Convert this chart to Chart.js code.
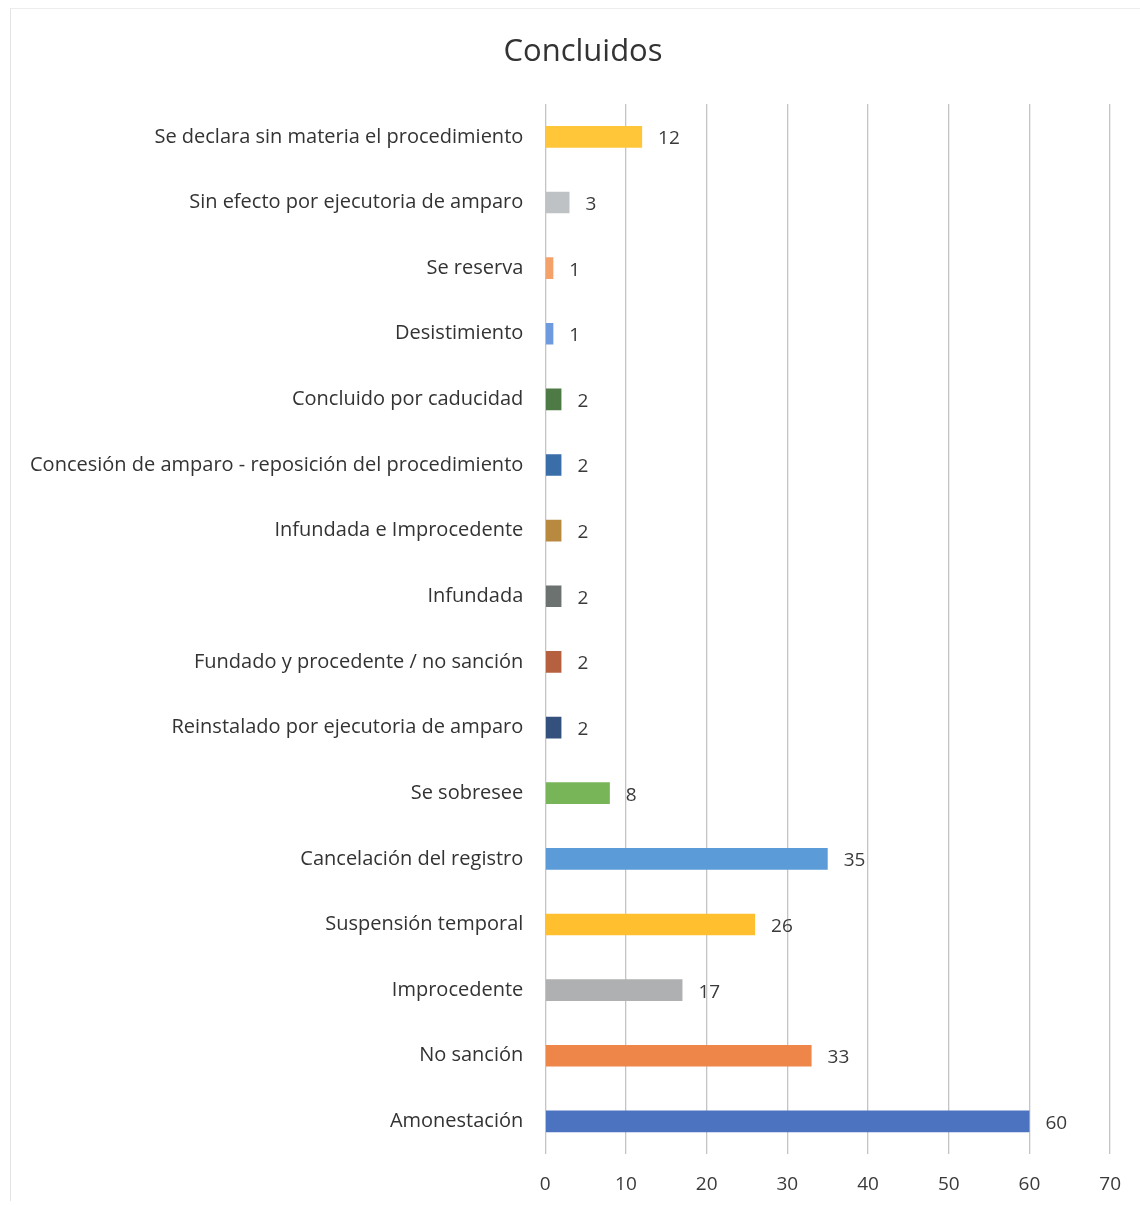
<!DOCTYPE html>
<html>
<head>
<meta charset="utf-8">
<script src="https://cdn.jsdelivr.net/npm/chart.js@4"></script>
<style>
  html, body { margin: 0; padding: 0; background: #fff; }
  #wrap { width: 1140px; height: 1205px; position: relative; }
  #marco {
      position: absolute; left: 10px; top: 8px; right: 0; bottom: 4px;
      border-left: 1px solid #e4e4e4; border-top: 1px solid #ececec;
      pointer-events: none;
  }
</style>
</head>
<body>
<div id="wrap">
  <canvas id="chart" width="1140" height="1205"></canvas>
  <div id="marco"></div>
</div>
<script>
// categorias de arriba hacia abajo
const categorias = [
    "Se declara sin materia el procedimiento",
    "Sin efecto por ejecutoria de amparo",
    "Se reserva",
    "Desistimiento",
    "Concluido por caducidad",
    "Concesión de amparo - reposición del procedimiento",
    "Infundada e Improcedente",
    "Infundada",
    "Fundado y procedente / no sanción",
    "Reinstalado por ejecutoria de amparo",
    "Se sobresee",
    "Cancelación del registro",
    "Suspensión temporal",
    "Improcedente",
    "No sanción",
    "Amonestación"
];

const valores = [12, 3, 1, 1, 2, 2, 2, 2, 2, 2, 8, 35, 26, 17, 33, 60];

const colores = [
    "#FFC63A", "#BFC2C4", "#F4A26A", "#6E9BDD",
    "#4E7A45", "#3A6EA8", "#B78A40", "#6B7270",
    "#B5603E", "#34517E", "#78B558", "#5B9BD8",
    "#FFBF2E", "#AEB0B1", "#EE8549", "#4B73C0"
];

const ticksX = [0, 10, 20, 30, 40, 50, 60, 70];

const titulo = "Concluidos";

const fuente = "'Open Sans', 'DejaVu Sans', sans-serif";

// titulo (en el original no queda centrado en el lienzo)
const tituloPlugin = {
    id: "tituloPlugin",
    afterDraw(chart) {
        const ctx = chart.ctx;
        ctx.save();
        ctx.font = "31px " + fuente;
        ctx.fillStyle = "#333333";
        ctx.textAlign = "center";
        ctx.textBaseline = "middle";
        ctx.fillText(titulo, 583, 52);
        ctx.restore();
    }
};

// etiquetas de valor al final de cada barra
const etiquetasValor = {
    id: "etiquetasValor",
    afterDatasetsDraw(chart) {
        const ctx = chart.ctx;
        const meta = chart.getDatasetMeta(0);
        ctx.save();
        ctx.font = "19px " + fuente;
        ctx.fillStyle = "#3a3a3a";
        ctx.textBaseline = "middle";
        ctx.textAlign = "left";
        meta.data.forEach((bar, i) => {
            ctx.fillText(valores[i], bar.x + 16, bar.y + 2);
        });
        ctx.restore();
    }
};

new Chart(document.getElementById("chart"), {
    type: "bar",
    data: {
        labels: categorias,
        datasets: [{
            data: valores,
            backgroundColor: colores,
            barPercentage: 0.33,
            categoryPercentage: 1
        }]
    },
    options: {
        indexAxis: "y",
        responsive: false,
        animation: false,
        layout: {
            padding: { left: 16, right: 29, top: 104, bottom: -10 }
        },
        plugins: {
            legend: { display: false },
            tooltip: { enabled: false },
            title: { display: false }
        },
        scales: {
            x: {
                min: 0,
                max: 70,
                afterBuildTicks(axis) {
                    axis.ticks = ticksX.map(v => ({ value: v }));
                },
                grid: {
                    color: "#c4c4c4",
                    lineWidth: 1.3,
                    drawTicks: false
                },
                border: { display: false },
                ticks: {
                    color: "#3a3a3a",
                    padding: 19,
                    font: { family: fuente, size: 19 }
                }
            },
            y: {
                grid: { display: false },
                border: { display: false },
                ticks: {
                    color: "#333333",
                    padding: 14,
                    autoSkip: false,
                    font: { family: fuente, size: 20 }
                }
            }
        }
    },
    plugins: [etiquetasValor, tituloPlugin]
});
</script>
</body>
</html>
